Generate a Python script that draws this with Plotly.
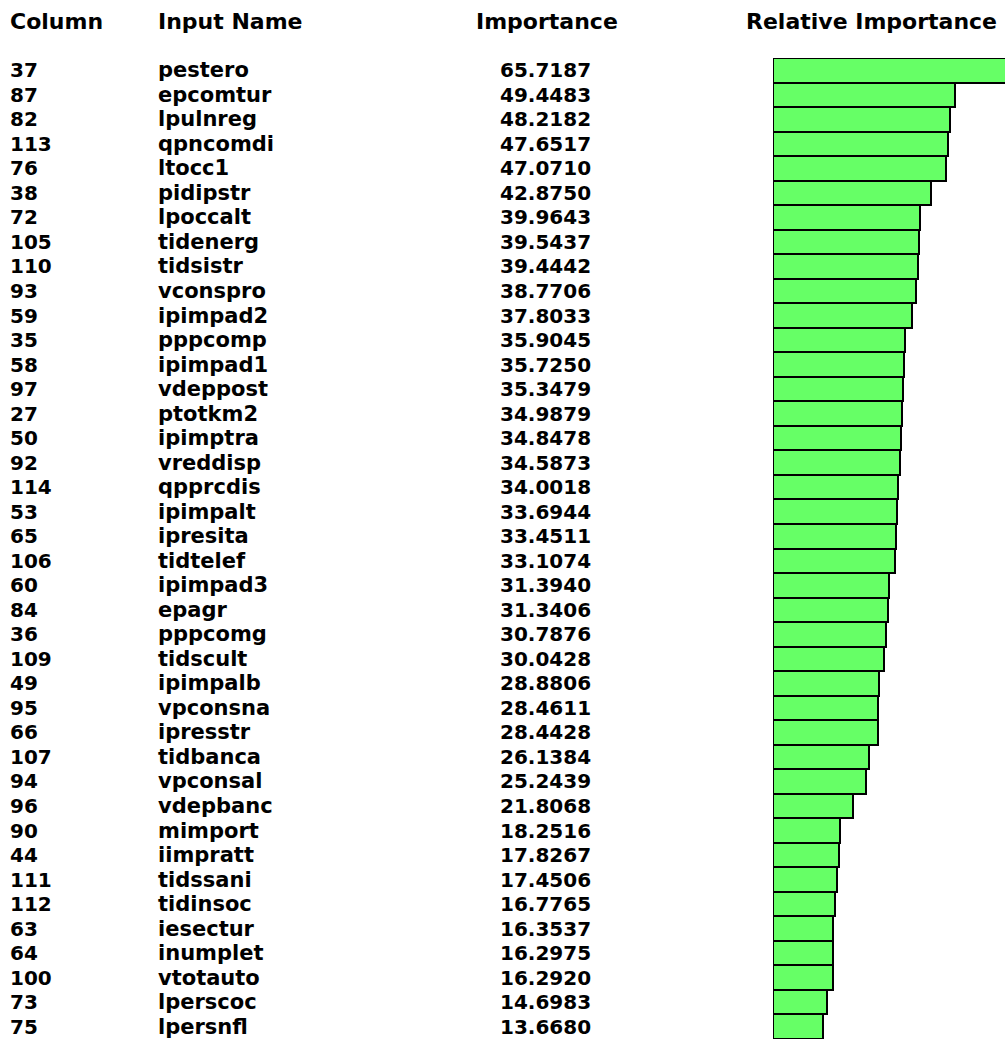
import plotly.graph_objects as go

columns = [37, 87, 82, 113, 76, 38, 72, 105, 110, 93, 59, 35, 58, 97, 27, 50, 92, 114, 53, 65,
           106, 60, 84, 36, 109, 49, 95, 66, 107, 94, 96, 90, 44, 111, 112, 63, 64, 100, 73, 75]
names = ["pestero", "epcomtur", "lpulnreg", "qpncomdi", "ltocc1", "pidipstr", "lpoccalt", "tidenerg",
         "tidsistr", "vconspro", "ipimpad2", "pppcomp", "ipimpad1", "vdeppost", "ptotkm2", "ipimptra",
         "vreddisp", "qpprcdis", "ipimpalt", "ipresita", "tidtelef", "ipimpad3", "epagr", "pppcomg",
         "tidscult", "ipimpalb", "vpconsna", "ipresstr", "tidbanca", "vpconsal", "vdepbanc", "mimport",
         "iimpratt", "tidssani", "tidinsoc", "iesectur", "inumplet", "vtotauto", "lperscoc", "lpersnfl"]
importance = [65.7187, 49.4483, 48.2182, 47.6517, 47.0710, 42.8750, 39.9643, 39.5437, 39.4442, 38.7706,
              37.8033, 35.9045, 35.7250, 35.3479, 34.9879, 34.8478, 34.5873, 34.0018, 33.6944, 33.4511,
              33.1074, 31.3940, 31.3406, 30.7876, 30.0428, 28.8806, 28.4611, 28.4428, 26.1384, 25.2439,
              21.8068, 18.2516, 17.8267, 17.4506, 16.7765, 16.3537, 16.2975, 16.2920, 14.6983, 13.6680]
headers = ["Column", "Input Name", "Importance", "Relative Importance"]

W, H = 1005, 1043
rows = list(range(len(importance)))

fig = go.Figure()
fig.add_trace(go.Bar(
    x=importance, y=rows, orientation="h",
    marker=dict(color="#66FF66", line=dict(color="#000000", width=2)),
    hoverinfo="skip",
))

HFONT = dict(family="DejaVu Sans", size=22, color="#000000", weight="bold")
FONT = dict(family="DejaVu Sans", size=21, color="#000000", weight="bold")
NUMFONT = dict(family="DejaVu Sans", size=20, color="#000000", weight="bold")

ann = []
for i in rows:
    ann.append(dict(x=8 / W, y=i, xref="paper", yref="y", text=str(columns[i]),
                    xanchor="left", yanchor="middle", showarrow=False, font=NUMFONT))
    ann.append(dict(x=156 / W, y=i, xref="paper", yref="y", text=names[i],
                    xanchor="left", yanchor="middle", showarrow=False, font=FONT))
    ann.append(dict(x=593 / W, y=i, xref="paper", yref="y", text=f"{importance[i]:.4f}",
                    xanchor="right", yanchor="middle", showarrow=False, font=NUMFONT))

hx = [(8, "left"), (156, "left"), (547, "center"), (871, "center")]
for (px, anc), t in zip(hx, headers):
    ann.append(dict(x=px / W, y=1 - 22 / H, xref="paper", yref="paper", text=t,
                    xanchor=anc, yanchor="middle", showarrow=False, font=HFONT))

fig.update_layout(
    width=W, height=H,
    margin=dict(l=0, r=0, t=0, b=0),
    paper_bgcolor="white", plot_bgcolor="white",
    bargap=0, showlegend=False,
    xaxis=dict(domain=[773 / W, 1], range=[0, 63.04], visible=False, fixedrange=True),
    yaxis=dict(domain=[4 / H, 1 - 58 / H], range=[len(rows) - 0.5, -0.5], visible=False,
               fixedrange=True),
    annotations=ann,
)

fig.write_html("out.html", config={"displayModeBar": False},
               post_script="document.body.style.margin='0';")
